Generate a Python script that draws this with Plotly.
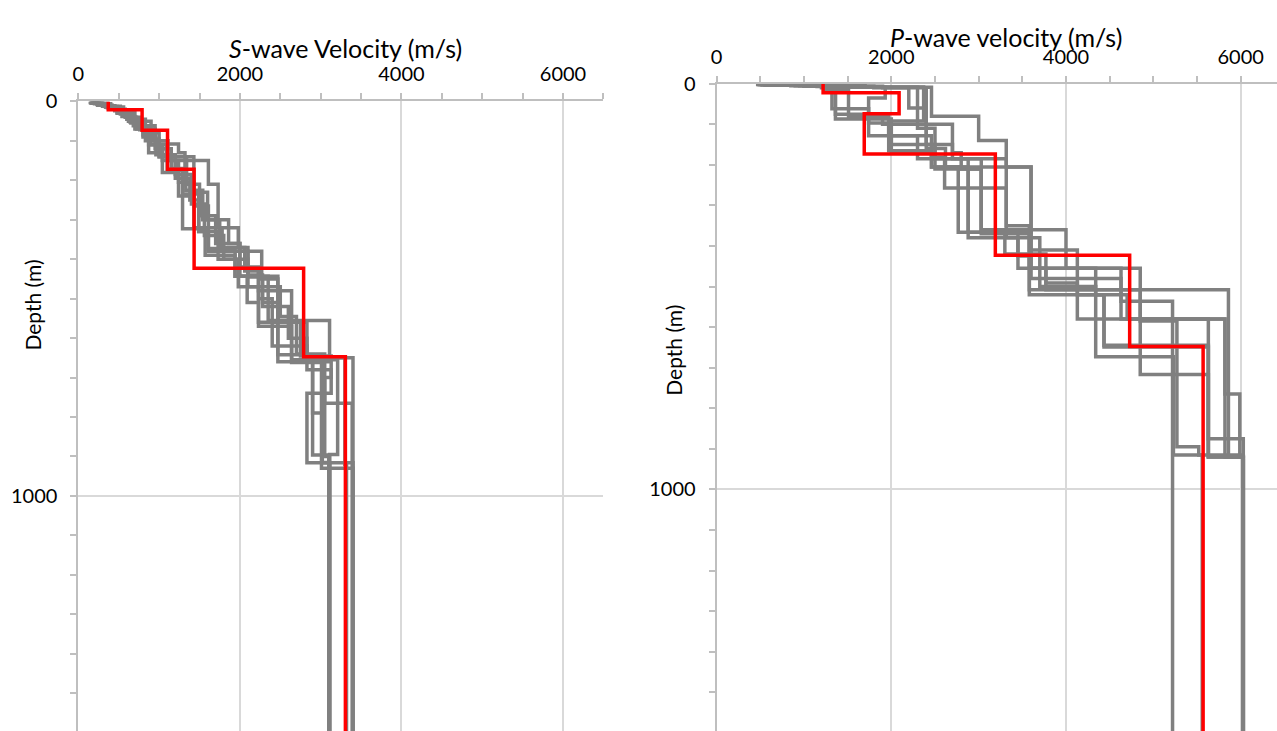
import plotly.graph_objects as go

# ---------------- DATA ----------------
# S-wave velocity models: layer-top depths (m) and layer velocities (m/s)
vs_gray_tops = [
    [0, 4, 10, 18, 32, 55, 85, 120, 175, 235, 330, 400, 470, 560, 660, 790, 915],
    [0, 5, 12, 24, 45, 72, 110, 150, 205, 265, 320, 380, 445, 520, 600, 650],
    [0, 6, 15, 30, 62, 100, 140, 210, 290, 360, 443, 555, 660, 896],
    [0, 3, 8, 16, 30, 50, 70, 108, 130, 210, 323, 390, 443, 510, 570, 642, 916],
    [0, 4, 10, 20, 40, 70, 100, 130, 180, 240, 320, 373, 443, 555, 655, 765],
    [0, 5, 12, 22, 45, 62, 100, 150, 210, 320, 370, 440, 510, 570, 662, 930],
    [0, 3, 9, 20, 38, 70, 110, 140, 200, 250, 330, 380, 450, 560, 680, 740, 916],
    [0, 6, 14, 26, 50, 80, 120, 170, 225, 300, 360, 420, 500, 620, 650, 920],
    [0, 4, 11, 22, 40, 65, 95, 140, 195, 260, 340, 400, 470, 545, 640, 765, 895],
    [0, 5, 13, 28, 52, 90, 135, 185, 230, 300, 370, 430, 480, 560, 645, 700, 900],
]
vs_gray_vel = [
    [160, 240, 380, 520, 650, 800, 950, 1100, 1290, 1490, 1730, 1980, 2230, 2470, 2900, 3020, 3110],
    [180, 300, 450, 600, 760, 900, 1040, 1240, 1430, 1610, 1780, 2100, 2280, 2600, 2830, 3400],
    [200, 340, 500, 680, 870, 1000, 1340, 1500, 1700, 2000, 2350, 3110, 2900, 3100],
    [150, 230, 360, 480, 620, 760, 950, 1240, 1320, 1290, 1570, 1940, 2090, 2230, 2470, 3020, 3400],
    [170, 280, 420, 580, 720, 830, 870, 1040, 1240, 1430, 1610, 1940, 2470, 2640, 3210, 3390],
    [220, 360, 520, 660, 830, 950, 1110, 1610, 1730, 1980, 2100, 2280, 2470, 2640, 3010, 3400],
    [150, 260, 400, 540, 700, 870, 1090, 1430, 1380, 1490, 1610, 2270, 2470, 2830, 3130, 2830, 3110],
    [250, 400, 560, 700, 900, 1000, 1150, 1330, 1540, 1860, 2000, 2230, 2400, 2830, 3300, 3320],
    [160, 300, 450, 620, 780, 880, 1000, 1200, 1400, 1560, 1800, 2100, 2500, 2700, 3050, 3210, 3110],
    [200, 330, 480, 640, 800, 960, 1200, 1400, 1600, 1750, 2060, 2230, 2640, 2750, 3130, 3050, 3110],
]
vs_red_tops = [0, 21, 73, 172, 423, 647]
vs_red_vel = [370, 789, 1104, 1433, 2789, 3306]

# P-wave velocity models
vp_gray_tops = [
    [0, 2, 5, 9, 80, 140, 205, 366, 508, 919],
    [0, 3, 6, 10, 160, 205, 366, 455, 491, 580, 920],
    [0, 2, 5, 10, 62, 97, 128, 185, 380, 425, 520, 645, 920],
    [0, 3, 7, 12, 75, 100, 150, 210, 370, 455, 536],
    [0, 2, 6, 15, 80, 128, 181, 257, 380, 500, 673, 915],
    [0, 2, 5, 9, 35, 128, 170, 205, 360, 455, 585, 895, 915],
    [0, 3, 6, 12, 87, 150, 185, 350, 410, 520, 580, 875],
    [0, 2, 4, 8, 92, 165, 205, 366, 455, 520, 649, 920],
    [0, 2, 5, 9, 110, 185, 360, 420, 508, 717, 919],
    [0, 3, 6, 10, 60, 100, 170, 210, 360, 480, 580, 765, 919],
]
vp_gray_vel = [
    [480, 1000, 1700, 2460, 3000, 3316, 3600, 3580, 5860, 6030],
    [520, 1100, 1800, 2400, 2620, 2766, 3450, 3770, 4130, 5820, 6030],
    [600, 950, 1200, 1320, 1740, 1970, 2300, 2880, 3450, 3580, 4435, 5630, 6030],
    [650, 1150, 1300, 1360, 1900, 2400, 2500, 3030, 3580, 4630, 5220],
    [700, 1100, 1240, 1510, 1970, 2460, 2610, 3316, 3700, 4340, 5230, 5560],
    [500, 900, 1400, 1930, 1740, 2000, 2460, 3600, 4000, 4850, 5270, 5520, 6030],
    [550, 1000, 1300, 1360, 2000, 2700, 3316, 3580, 4130, 4700, 5630, 6030],
    [470, 800, 1500, 2370, 1970, 2460, 2880, 3600, 4340, 4435, 5630, 6030],
    [490, 850, 1500, 2300, 2500, 3030, 3300, 3770, 4850, 5630, 6030],
    [560, 1200, 1900, 2200, 2400, 2700, 2800, 3030, 3600, 4630, 5820, 5990, 6030],
]
vp_red_tops = [0, 22, 74, 173, 423, 648]
vp_red_vel = [1219, 2089, 1690, 3191, 4729, 5570]

halfspace_bottom = 1700  # depth (m) to which the last layer is drawn

x_ticks = [0, 2000, 4000, 6000]
y_ticks = [0, 1000]

# ---------------- LAYOUT ----------------
W, H = 1277, 731
GRAY = "#808080"
RED = "#ff0000"
FONT = "Lato"
LW = 3.5


def px_x(p):
    return p / W


def px_y(p):
    return 1 - p / H


fig = go.Figure()


def add_profile(tops, vel, color, xa, ya):
    xs = list(vel) + [vel[-1]]
    ys = list(tops) + [halfspace_bottom]
    fig.add_trace(go.Scatter(
        x=xs, y=ys, mode="lines", line=dict(color=color, width=LW, shape="vh"),
        xaxis=xa, yaxis=ya, showlegend=False, hoverinfo="skip"))


for t, v in zip(vs_gray_tops, vs_gray_vel):
    add_profile(t, v, GRAY, "x", "y")
add_profile(vs_red_tops, vs_red_vel, RED, "x", "y")
for t, v in zip(vp_gray_tops, vp_gray_vel):
    add_profile(t, v, GRAY, "x2", "y2")
add_profile(vp_red_tops, vp_red_vel, RED, "x2", "y2")

# geometry (pixels)
L_x0, L_x1, L_y0 = 72.7, 600.2, 90
R_x0, R_y0 = 714, 72
L_ppm_y = 0.4017   # px per metre depth
R_ppm_y = 0.413
R_ppv_x = 0.08775  # px per m/s

xcommon = dict(
    side="top", tickvals=x_ticks, ticks="outside", ticklen=6, tickwidth=1.5,
    tickcolor="#bfbfbf", showline=True, linecolor="#bfbfbf", linewidth=2,
    showgrid=True, gridcolor="#d9d9d9", gridwidth=1.5, zeroline=False,
    minor=dict(dtick=500, ticks="outside", ticklen=6, tickcolor="#bfbfbf", tickwidth=1.5, showgrid=False),
    tickfont=dict(family=FONT, size=20, color="#000"), ticklabelstandoff=4,
)
ycommon = dict(
    tickvals=y_ticks, ticks="outside", ticklen=6, tickwidth=1.5,
    tickcolor="#bfbfbf", showline=True, linecolor="#bfbfbf", linewidth=2,
    showgrid=True, gridcolor="#d9d9d9", gridwidth=1.5, zeroline=False,
    minor=dict(dtick=100, ticks="outside", ticklen=6, tickcolor="#bfbfbf", tickwidth=1.5, showgrid=False),
    tickfont=dict(family=FONT, size=20, color="#000"), ticklabelstandoff=9,
)

fig.update_layout(
    width=W, height=H, margin=dict(l=0, r=0, t=0, b=0),
    paper_bgcolor="white", plot_bgcolor="white",
    font=dict(family=FONT, color="#000"),
    xaxis=dict(domain=[px_x(L_x0), px_x(L_x1)], range=[0, 6500], anchor="y", **xcommon),
    yaxis=dict(domain=[0, px_y(L_y0)], range=[(H - L_y0) / L_ppm_y, 0], anchor="x", **ycommon),
    xaxis2=dict(domain=[px_x(R_x0), 1], range=[0, (W - R_x0) / R_ppv_x], anchor="y2", **xcommon),
    yaxis2=dict(domain=[0, px_y(R_y0)], range=[(H - R_y0) / R_ppm_y, 0], anchor="x2", **ycommon),
    annotations=[
        dict(text="<i>S</i>-wave Velocity (m/s)", x=px_x(341), y=px_y(36), xref="paper", yref="paper",
             xanchor="center", yanchor="middle", showarrow=False, font=dict(family=FONT, size=25)),
        dict(text="<i>P</i>-wave velocity (m/s)", x=px_x(1005), y=px_y(24), xref="paper", yref="paper",
             xanchor="center", yanchor="middle", showarrow=False, font=dict(family=FONT, size=25)),
        dict(text="Depth (m)", x=px_x(27), y=px_y(297), xref="paper", yref="paper", textangle=-90,
             xanchor="center", yanchor="middle", showarrow=False, font=dict(family=FONT, size=21)),
        dict(text="Depth (m)", x=px_x(671), y=px_y(343), xref="paper", yref="paper", textangle=-90,
             xanchor="center", yanchor="middle", showarrow=False, font=dict(family=FONT, size=21)),
    ],
)

fig.write_html(
    "out.html", config={"displayModeBar": False},
    post_script="document.body.style.margin='0px';document.body.style.overflow='hidden';"
                "document.documentElement.style.overflow='hidden';",
)
